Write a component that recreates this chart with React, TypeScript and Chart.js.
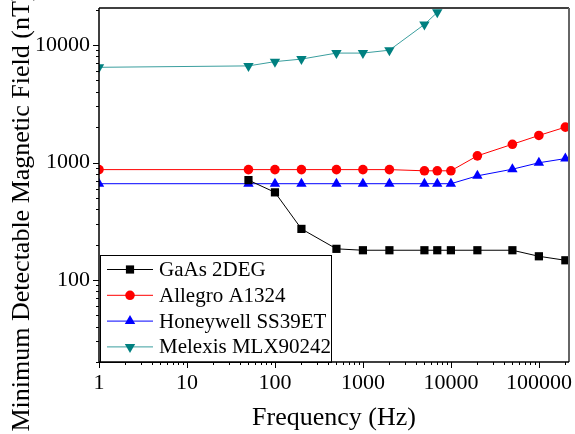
import { useEffect, useRef } from "react";
import { Chart, registerables } from "chart.js";

Chart.register(...registerables);

const frequencies = [1, 50, 100, 200, 500, 1000, 2000, 5000, 7000, 10000, 20000, 50000, 100000, 200000];
const gaas2deg = [null, 708, 557, 272, 184, 179, 179, 179, 179, 179, 179, 179, 159, 147];
const allegroA1324 = [870, 870, 870, 870, 870, 870, 870, 850, 850, 850, 1140, 1430, 1700, 2000];
const honeywellSS39ET = [660, 660, 660, 660, 660, 660, 660, 660, 660, 660, 770, 877, 995, 1080];
const melexisMLX90242 = [6470, 6650, 7230, 7600, 8550, 8550, 9050, 15000, 19000, null, null, null, null, null];

const seriesNames = ["GaAs 2DEG", "Allegro A1324", "Honeywell SS39ET", "Melexis MLX90242"];
const xTitle = "Frequency (Hz)";
const yTitle = "Minimum Detectable Magnetic Field (nT)";

const FONT = "'Liberation Serif', 'Times New Roman', serif";

const toPoints = (vals: (number | null)[]) =>
  frequencies
    .map((f, i) => (vals[i] == null ? null : { x: f, y: vals[i] as number }))
    .filter((p) => p !== null);

const isMajor = (v: number) => Math.abs(Math.log10(v) - Math.round(Math.log10(v))) < 1e-9;
const isNice = (v: number) => {
  const e = Math.floor(Math.log10(v) + 1e-9);
  const m = v / Math.pow(10, e);
  return Math.abs(m - Math.round(m)) < 1e-6;
};

function drawMarker(ctx: CanvasRenderingContext2D, style: string, r: number, rot: number, cx: number, cy: number, color: string) {
  ctx.save();
  ctx.fillStyle = color;
  ctx.translate(cx, cy);
  ctx.rotate((rot * Math.PI) / 180);
  ctx.beginPath();
  if (style === "rect") {
    const s = r * Math.SQRT1_2;
    ctx.rect(-s, -s, 2 * s, 2 * s);
  } else if (style === "triangle") {
    const w = (r * Math.sqrt(3)) / 2;
    ctx.moveTo(0, -r);
    ctx.lineTo(w, r / 2);
    ctx.lineTo(-w, r / 2);
    ctx.closePath();
  } else {
    ctx.arc(0, 0, r, 0, Math.PI * 2);
  }
  ctx.fill();
  ctx.restore();
}

const decorPlugin = {
  id: "decor",
  afterDraw(chart: any) {
    const { ctx, chartArea: a, scales } = chart;
    const x = scales.x;
    const y = scales.y;
    ctx.save();
    ctx.strokeStyle = "#000";
    ctx.lineWidth = 1;
    x.ticks.forEach((t: any) => {
      if (!isNice(t.value)) return;
      const px = Math.round(x.getPixelForValue(t.value)) + 0.5;
      const len = isMajor(t.value) ? 6 : 3;
      ctx.beginPath();
      ctx.moveTo(px, a.bottom);
      ctx.lineTo(px, a.bottom + len);
      ctx.stroke();
    });
    y.ticks.forEach((t: any) => {
      if (!isNice(t.value)) return;
      const py = Math.round(y.getPixelForValue(t.value)) + 0.5;
      const len = isMajor(t.value) ? 6 : 3;
      ctx.beginPath();
      ctx.moveTo(a.left, py);
      ctx.lineTo(a.left - len, py);
      ctx.stroke();
    });

    // y-axis title
    ctx.save();
    ctx.translate(29, 212);
    ctx.rotate(-Math.PI / 2);
    ctx.fillStyle = "#000";
    ctx.font = `26px ${FONT}`;
    ctx.textAlign = "center";
    ctx.textBaseline = "alphabetic";
    ctx.fillText(yTitle, 0, 0);
    ctx.restore();

    // legend box
    const lx = 100, ly = 255, lw = 231, lh = a.bottom - 255;
    ctx.fillStyle = "#fff";
    ctx.fillRect(lx, ly, lw, lh);
    ctx.strokeStyle = "#000";
    ctx.lineWidth = 1;
    ctx.strokeRect(lx + 0.5, ly + 0.5, lw, lh);
    chart.data.datasets.forEach((ds: any, i: number) => {
      const cy = 269.5 + i * 25.8;
      ctx.strokeStyle = ds.borderColor;
      ctx.lineWidth = 1;
      ctx.beginPath();
      ctx.moveTo(107, cy);
      ctx.lineTo(153, cy);
      ctx.stroke();
      drawMarker(ctx, ds.pointStyle, ds.pointRadius, ds.pointRotation || 0, 130, cy, ds.pointBackgroundColor);
      ctx.fillStyle = "#000";
      ctx.font = `21px ${FONT}`;
      ctx.textBaseline = "middle";
      ctx.textAlign = "left";
      ctx.fillText(ds.label, 159, cy + 1);
    });

    // frame
    ctx.strokeStyle = "#000";
    ctx.lineWidth = 1.5;
    ctx.beginPath();
    ctx.moveTo(a.left, a.top);
    ctx.lineTo(a.right, a.top);
    ctx.stroke();
    ctx.strokeStyle = "#666";
    ctx.lineWidth = 2;
    ctx.beginPath();
    ctx.moveTo(a.right, a.top);
    ctx.lineTo(a.right, a.bottom);
    ctx.stroke();
    ctx.strokeStyle = "#000";
    ctx.lineWidth = 1.5;
    ctx.beginPath();
    ctx.moveTo(a.left, a.top);
    ctx.lineTo(a.left, a.bottom);
    ctx.lineTo(a.right, a.bottom);
    ctx.stroke();
    ctx.restore();
  },
};

export default function App() {
  const ref = useRef<HTMLCanvasElement | null>(null);
  useEffect(() => {
    if (!ref.current) return;
    const mk = (label: string, vals: (number | null)[], color: string, lineColor: string, style: string, radius: number, rot = 0) => ({
      label,
      data: toPoints(vals),
      borderColor: lineColor,
      backgroundColor: color,
      pointBackgroundColor: color,
      pointBorderColor: color,
      pointBorderWidth: 0,
      pointStyle: style,
      pointRadius: radius,
      pointRotation: rot,
      borderWidth: 1,
      tension: 0,
    });
    const chart = new Chart(ref.current, {
      type: "line",
      data: {
        datasets: [
          mk(seriesNames[0], gaas2deg, "#000000", "#000000", "rect", 5.8),
          mk(seriesNames[1], allegroA1324, "#ff0000", "#ff0000", "circle", 4.8),
          mk(seriesNames[2], honeywellSS39ET, "#0000ff", "#0000ff", "triangle", 6),
          mk(seriesNames[3], melexisMLX90242, "#008080", "#3a9e9e", "triangle", 6, 180),
        ] as any,
      },
      options: {
        responsive: false,
        animation: false,
        events: [],
        layout: { padding: { top: 8, right: 2, left: 0, bottom: 0 } },
        plugins: { legend: { display: false }, tooltip: { enabled: false } },
        scales: {
          x: {
            type: "logarithmic",
            min: 1,
            max: 220000,
            afterFit: (s: any) => {
              s.height = 72;
              s.paddingLeft = 0;
              s.paddingRight = 0;
            },
            grid: { display: true, drawOnChartArea: false, drawTicks: true, tickLength: 5, tickColor: "rgba(0,0,0,0)" },
            border: { display: false },
            ticks: {
              autoSkip: false,
              maxRotation: 0,
              padding: 3,
              color: "#000",
              font: { family: FONT, size: 22 },
              callback: (v: any) => (isMajor(Number(v)) ? String(v) : ""),
            },
            title: {
              display: true,
              text: xTitle,
              color: "#000",
              font: { family: FONT, size: 26 },
              padding: { top: 0, bottom: 0 },
            },
          },
          y: {
            type: "logarithmic",
            min: 20,
            max: 20700,
            afterFit: (s: any) => {
              s.width = 99;
              s.paddingTop = 0;
              s.paddingBottom = 0;
            },
            grid: { display: true, drawOnChartArea: false, drawTicks: true, tickLength: 5, tickColor: "rgba(0,0,0,0)" },
            border: { display: false },
            ticks: {
              autoSkip: false,
              padding: 4,
              color: "#000",
              font: { family: FONT, size: 22 },
              callback: (v: any) => (isMajor(Number(v)) ? String(v) : ""),
            },
            title: { display: false },
          },
        },
      },
      plugins: [decorPlugin],
    } as any);
    return () => chart.destroy();
  }, []);
  return (
    <div style={{ position: "fixed", left: 0, top: 0, width: 575, height: 434, background: "#fff" }}>
      <canvas ref={ref} width={575} height={434} style={{ display: "block" }} />
    </div>
  );
}
